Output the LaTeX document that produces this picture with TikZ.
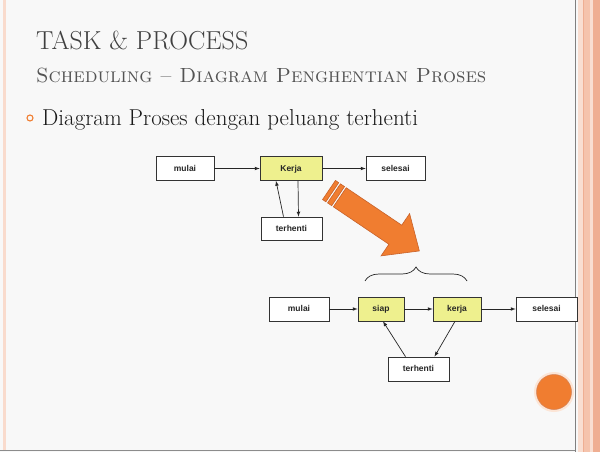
\documentclass[tikz,border=0pt]{standalone}
\usepackage{fontspec}
\newfontfamily\boxfont{Liberation Sans}
\usetikzlibrary{decorations.pathreplacing}
\definecolor{slidebg}{HTML}{F8F8F8}
\definecolor{salmon}{HTML}{F5C3AC}
\definecolor{salmondark}{HTML}{EFAE92}
\definecolor{accent}{HTML}{F07D30}
\definecolor{accentdark}{HTML}{C8622A}
\definecolor{boxyellow}{HTML}{EEF08E}
\definecolor{titlegrey}{HTML}{404040}
\tikzset{
  procbox/.style={draw=black!80, line width=.7pt, fill=white, minimum height=24pt,
    inner sep=0pt, text height=6.5pt, text depth=1.5pt,
    font=\boxfont\bfseries\fontsize{8.5}{9}\selectfont, text=black!85},
  activebox/.style={procbox, fill=boxyellow},
  link/.style={->, line width=.7pt, black!85}
}
\begin{document}
\begin{tikzpicture}[>=latex, x=1pt, y=-1pt]
\useasboundingbox (0,0) rectangle (600,452);
\fill[slidebg] (0,0) rectangle (600,452);
\fill[salmon!60] (3,0) rectangle (6,450);
\draw[black!45, line width=.8pt] (0,450.5)--(576,450.5);
\draw[black!50, line width=.8pt] (575.5,0)--(575.5,452);
\fill[salmon!55] (578,0) rectangle (600,452);
\fill[salmon] (583,0) rectangle (590,452);
\fill[salmondark] (593,0) rectangle (600,452);
\draw[salmondark, line width=.6pt] (583,0)--(583,452);
\node[anchor=base west, inner sep=0pt, text=titlegrey, font=\fontsize{26}{28}\selectfont] (title) at (36,50) {TASK \& PROCESS};
\node[anchor=base west, inner sep=0pt, text=titlegrey!90, font=\fontsize{20.5}{22}\selectfont\scshape] (subtitle) at (36,83) {Scheduling -- Diagram Penghentian Proses};
\draw[accent, line width=1.1pt] (30,118) circle (3);
\node[anchor=base west, inner sep=0pt, text=black!90, font=\fontsize{23}{25}\selectfont] (bullet) at (42,125) {Diagram Proses dengan peluang terhenti};
% sebelum
\node[procbox, minimum width=58pt] (mulaiA) at (185,168.5) {mulai};
\node[activebox, minimum width=62pt] (kerjaA) at (291,168.5) {Kerja};
\node[procbox, minimum width=59pt] (selesaiA) at (395.5,168.5) {selesai};
\node[procbox, minimum width=61pt, minimum height=23pt] (terhentiA) at (291.5,228.5) {terhenti};
\draw[link] (mulaiA) -- (kerjaA);
\draw[link] (kerjaA) -- (selesaiA);
\draw[link] ([xshift=7]kerjaA.south) -- ([xshift=7]terhentiA.north);
\draw[link] ([xshift=-8]terhentiA.north) -- ([xshift=-15]kerjaA.south);
% panah besar
\begin{scope}[shift={(329,190)}, rotate=-34, fill=accent, draw=accentdark, line width=.6pt]
  \filldraw (0,-11.5) rectangle (4,11.5);
  \filldraw (6,-11.5) rectangle (11,11.5);
  \filldraw (13,-11.5) -- (80,-11.5) -- (80,-25.5) -- (109,0) -- (80,25.5) -- (80,11.5) -- (13,11.5) -- cycle;
\end{scope}
% sesudah
\node[procbox, minimum width=60pt] (mulaiB) at (299,309) {mulai};
\node[activebox, minimum width=46pt] (siapB) at (381,309) {siap};
\node[activebox, minimum width=48pt] (kerjaB) at (457,309) {kerja};
\node[procbox, minimum width=61pt] (selesaiB) at (546.5,309) {selesai};
\node[procbox, minimum width=61pt] (terhentiB) at (418.5,369) {terhenti};
\draw[link] (mulaiB) -- (siapB);
\draw[link] (siapB) -- (kerjaB);
\draw[link] (kerjaB) -- (selesaiB);
\draw[link] ([xshift=-2]kerjaB.south) -- ([xshift=16]terhentiB.north);
\draw[link] ([xshift=-13]terhentiB.north) -- ([xshift=2]siapB.south);
\draw[black!85, line width=.7pt, decorate, decoration={brace, amplitude=14pt}] (365,281) -- (467,281);
\fill[accent!20] (554,392) circle (20);
\filldraw[fill=accent, draw=accentdark!80, line width=.5pt] (554,392) circle (17.5);
\end{tikzpicture}
\end{document}
